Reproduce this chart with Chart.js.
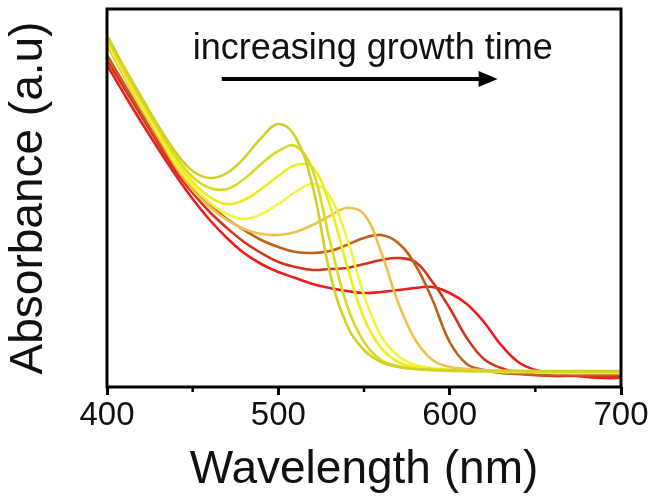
<!DOCTYPE html>
<html>
<head>
<meta charset="utf-8">
<title>Absorbance vs Wavelength</title>
<script src="https://cdn.jsdelivr.net/npm/chart.js@4.4.1/dist/chart.umd.min.js"></script>
<style>
    html, body { margin: 0; padding: 0; background: #fff; }
    #wrap { width: 654px; height: 502px; }
</style>
</head>
<body>
<div id="wrap"><canvas id="absChart" width="654" height="502"></canvas></div>
<script>
// Longitudes de onda (nm) y espectros
const wavelengths = [400, 410, 420, 430, 440, 450, 460, 470, 480, 490, 500, 510, 520, 530, 540, 550,
    560, 570, 580, 590, 600, 610, 620, 630, 640, 650, 660, 670, 680, 690, 700];

const abs1 = [3.52, 3.20, 2.90, 2.61, 2.35, 2.16, 2.09, 2.14, 2.29, 2.49, 2.63, 2.50, 2.01, 1.15, 0.62, 0.37,
    0.25, 0.20, 0.18, 0.17, 0.17, 0.16, 0.16, 0.16, 0.16, 0.16, 0.16, 0.16, 0.16, 0.16, 0.16];
const abs2 = [3.49, 3.17, 2.87, 2.58, 2.31, 2.10, 1.99, 1.98, 2.08, 2.23, 2.36, 2.41, 2.17, 1.47, 0.82, 0.45,
    0.27, 0.21, 0.18, 0.17, 0.16, 0.16, 0.16, 0.16, 0.16, 0.15, 0.15, 0.15, 0.15, 0.15, 0.15];
const abs3 = [3.47, 3.15, 2.85, 2.56, 2.27, 2.05, 1.90, 1.83, 1.87, 1.98, 2.11, 2.22, 2.20, 1.82, 1.22, 0.69,
    0.39, 0.25, 0.20, 0.18, 0.17, 0.16, 0.16, 0.16, 0.16, 0.16, 0.15, 0.15, 0.15, 0.15, 0.15];
const abs4 = [3.45, 3.13, 2.82, 2.53, 2.24, 2.01, 1.84, 1.73, 1.68, 1.73, 1.83, 1.95, 2.03, 1.91, 1.49, 0.92,
    0.51, 0.31, 0.22, 0.19, 0.17, 0.16, 0.16, 0.15, 0.15, 0.15, 0.14, 0.14, 0.14, 0.14, 0.14];
const abs5 = [3.42, 3.10, 2.79, 2.50, 2.21, 1.97, 1.80, 1.67, 1.58, 1.53, 1.52, 1.55, 1.62, 1.71, 1.79, 1.73,
    1.35, 0.84, 0.47, 0.27, 0.20, 0.18, 0.17, 0.16, 0.15, 0.15, 0.15, 0.14, 0.14, 0.14, 0.14];
const abs6 = [3.32, 3.03, 2.74, 2.46, 2.20, 1.99, 1.82, 1.68, 1.57, 1.47, 1.40, 1.35, 1.34, 1.36, 1.42, 1.49,
    1.52, 1.44, 1.22, 0.87, 0.45, 0.23, 0.17, 0.14, 0.13, 0.12, 0.12, 0.12, 0.12, 0.12, 0.12];
const abs7 = [3.27, 2.99, 2.71, 2.43, 2.16, 1.94, 1.75, 1.59, 1.45, 1.34, 1.25, 1.20, 1.17, 1.18, 1.19, 1.23,
    1.27, 1.29, 1.25, 1.05, 0.79, 0.49, 0.28, 0.19, 0.14, 0.12, 0.11, 0.11, 0.11, 0.11, 0.11];
const abs8 = [3.22, 2.93, 2.65, 2.38, 2.12, 1.88, 1.67, 1.49, 1.34, 1.23, 1.15, 1.09, 1.03, 0.99, 0.96, 0.94,
    0.95, 0.97, 0.99, 1.00, 0.94, 0.83, 0.65, 0.42, 0.25, 0.17, 0.14, 0.12, 0.10, 0.09, 0.09];

const spectra = [abs1, abs2, abs3, abs4, abs5, abs6, abs7, abs8];
const lineColors = ['#d0d028', '#dada26', '#eeee1a', '#f4f43c', '#f0c04c', '#c0601c', '#d2361a', '#ee1c1c'];

const xTicks = [400, 500, 600, 700];
const xMinorTicks = [450, 550, 650];
const FONT = "'Liberation Sans', Arial, sans-serif";

document.addEventListener('DOMContentLoaded', function() {
    const ctx = document.getElementById('absChart');

    // Marco negro, ticks menores y anotación "increasing growth time"
    const framePlugin = {
        id: 'frameAndNote',
        afterDraw(chart) {
            const c = chart.ctx;
            const a = chart.chartArea;
            const xs = chart.scales.x, ys = chart.scales.y;
            c.save();
            c.strokeStyle = '#000';
            c.lineWidth = 3;
            c.strokeRect(a.left, a.top, a.right - a.left, a.bottom - a.top);

            // ticks menores (más cortos)
            c.lineWidth = 2.5;
            xMinorTicks.forEach(v => {
                const px = xs.getPixelForValue(v);
                c.beginPath();
                c.moveTo(px, a.bottom);
                c.lineTo(px, a.bottom + 5);
                c.stroke();
            });

            // texto
            c.fillStyle = '#111';
            c.font = '36px ' + FONT;
            c.textBaseline = 'alphabetic';
            c.textAlign = 'left';
            c.fillText('increasing growth time', xs.getPixelForValue(450), ys.getPixelForValue(3.28));

            // flecha
            const ay = ys.getPixelForValue(3.08);
            const x0 = xs.getPixelForValue(467);
            const x1 = xs.getPixelForValue(628);
            c.lineWidth = 4;
            c.beginPath();
            c.moveTo(x0, ay);
            c.lineTo(x1 - 16, ay);
            c.stroke();
            c.fillStyle = '#000';
            c.beginPath();
            c.moveTo(x1 - 19, ay - 8);
            c.lineTo(x1, ay);
            c.lineTo(x1 - 19, ay + 8);
            c.closePath();
            c.fill();
            c.restore();
        }
    };

    new Chart(ctx, {
        type: 'line',
        data: {
            labels: wavelengths,
            datasets: spectra.map((vals, i) => ({
                data: wavelengths.map((w, j) => ({ x: w, y: vals[j] })),
                borderColor: lineColors[i],
                borderWidth: 2.6,
                pointRadius: 0,
                fill: false,
                tension: 0.4
            }))
        },
        options: {
            responsive: false,
            animation: false,
            layout: { padding: { top: 9, right: 33, left: 0, bottom: 0 } },
            plugins: {
                legend: { display: false },
                tooltip: { enabled: false }
            },
            scales: {
                x: {
                    type: 'linear',
                    min: 400,
                    max: 700,
                    border: { display: false },
                    grid: {
                        drawOnChartArea: false,
                        drawTicks: true,
                        tickLength: 8,
                        tickColor: '#000',
                        tickWidth: 3
                    },
                    ticks: {
                        stepSize: 100,
                        autoSkip: false,
                        maxRotation: 0,
                        padding: 1,
                        color: '#111',
                        font: { family: FONT, size: 33 },
                        callback: function(value) {
                            return xTicks.includes(value) ? String(value) : '';
                        }
                    },
                    title: {
                        display: true,
                        text: 'Wavelength (nm)',
                        color: '#111',
                        font: { family: FONT, size: 46 },
                        padding: { top: 0, bottom: 4 }
                    },
                    afterFit: function(scale) { scale.height = 115; }
                },
                y: {
                    min: 0,
                    max: 3.78,
                    border: { display: false },
                    grid: { display: false },
                    ticks: { display: false },
                    title: {
                        display: true,
                        text: 'Absorbance (a.u)',
                        color: '#111',
                        font: { family: FONT, size: 46 },
                        padding: { top: 2, bottom: 0 }
                    },
                    afterFit: function(scale) { scale.width = 107; }
                }
            }
        },
        plugins: [framePlugin]
    });
});
</script>
</body>
</html>
